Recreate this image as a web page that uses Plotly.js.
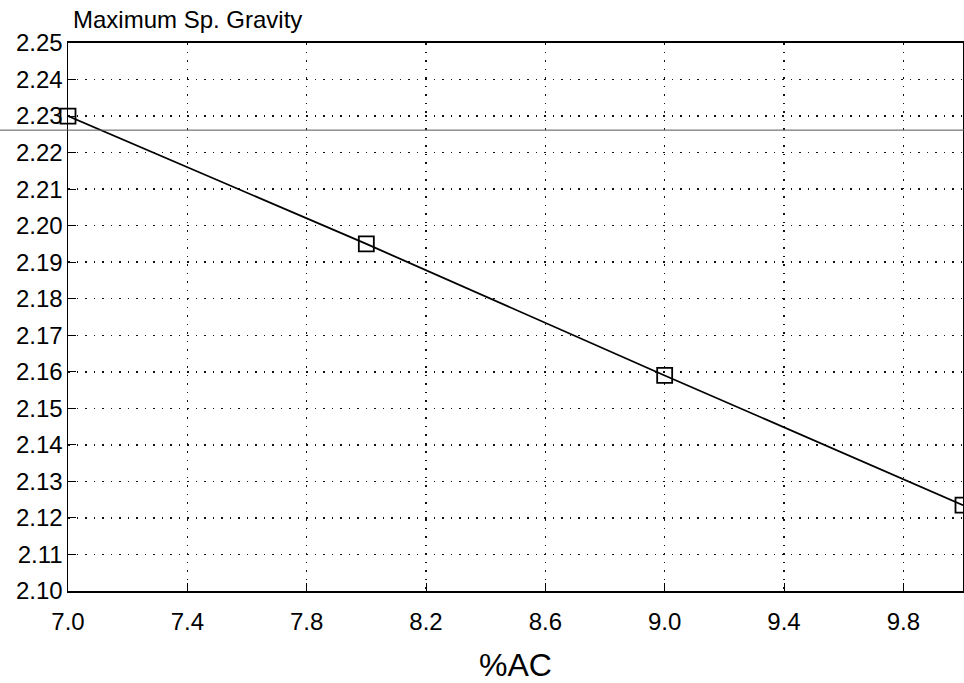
<!DOCTYPE html>
<html>
<head>
<meta charset="utf-8">
<script src="https://cdn.plot.ly/plotly-3.0.1.min.js"></script>
<style>
  html, body { margin: 0; padding: 0; background: #fff; }
  #chart { width: 964px; height: 683px; }
</style>
</head>
<body>
<div id="chart"></div>
<script>
// Asphalt content (%AC) vs maximum specific gravity
const acPercent = [7.0, 8.0, 9.0, 10.0];
const maxSpGravity = [2.230, 2.195, 2.159, 2.1235];

const xTickVals = [7.0, 7.4, 7.8, 8.2, 8.6, 9.0, 9.4, 9.8];
const xTickText = ['7.0', '7.4', '7.8', '8.2', '8.6', '9.0', '9.4', '9.8'];
const yTickVals = [2.10, 2.11, 2.12, 2.13, 2.14, 2.15, 2.16, 2.17, 2.18, 2.19, 2.20, 2.21, 2.22, 2.23, 2.24, 2.25];
const yTickText = yTickVals.map(v => v.toFixed(2));

const FONT = 'Liberation Sans, Arial, Helvetica, sans-serif';

const trace = {
  x: acPercent,
  y: maxSpGravity,
  type: 'scatter',
  mode: 'lines+markers',
  cliponaxis: false,
  line: { color: '#000', width: 1.8 },
  marker: { symbol: 'square-open', size: 15, color: '#000', line: { width: 1.8, color: '#000' } },
  hoverinfo: 'x+y'
};

const layout = {
  width: 964,
  height: 683,
  margin: { l: 68, r: 1, t: 43, b: 92, pad: 0 },
  paper_bgcolor: '#fff',
  plot_bgcolor: '#fff',
  showlegend: false,
  font: { family: FONT, color: '#000', size: 24 },
  title: {
    text: 'Maximum Sp. Gravity',
    font: { family: FONT, size: 24, color: '#000' },
    xref: 'container', yref: 'container',
    x: 73 / 964, xanchor: 'left',
    y: 1 - 20 / 683, yanchor: 'middle'
  },
  xaxis: {
    range: [7.0, 10.0],
    tickmode: 'array',
    tickvals: xTickVals,
    ticktext: xTickText,
    ticks: 'inside',
    ticklen: 8,
    tickwidth: 1,
    tickcolor: '#000',
    ticklabelstandoff: 8,
    tickfont: { family: FONT, size: 24, color: '#000' },
    showgrid: true,
    gridcolor: '#111',
    gridwidth: 1.5,
    griddash: '1.5px,7px',
    showline: true,
    linecolor: '#000',
    linewidth: 2,
    mirror: true,
    zeroline: false,
    title: { text: '%AC', font: { family: FONT, size: 32, color: '#000' }, standoff: 21 }
  },
  yaxis: {
    range: [2.10, 2.25],
    tickmode: 'array',
    tickvals: yTickVals,
    ticktext: yTickText,
    ticks: 'inside',
    ticklen: 8,
    tickwidth: 1,
    tickcolor: '#000',
    ticklabelstandoff: -1,
    tickfont: { family: FONT, size: 24, color: '#000' },
    showgrid: true,
    gridcolor: '#111',
    gridwidth: 1.5,
    griddash: '1.5px,7px',
    showline: true,
    linecolor: '#000',
    linewidth: 1.5,
    mirror: true,
    zeroline: false
  },
  shapes: [
    {
      // thin stray rule running across the whole sheet
      type: 'line', xref: 'paper', yref: 'paper',
      x0: -68 / 895, x1: 1.002, y0: 0.841, y1: 0.841,
      line: { color: '#555', width: 1 },
      layer: 'above'
    }
  ]
};

Plotly.newPlot('chart', [trace], layout, { displayModeBar: false, staticPlot: true });
</script>
</body>
</html>
